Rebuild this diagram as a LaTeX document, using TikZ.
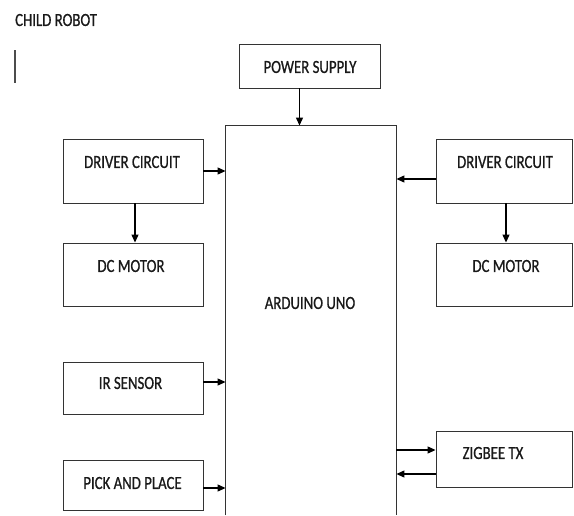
\documentclass[tikz,border=0pt]{standalone}
\usepackage{fontspec}
\newfontfamily\calfont[FakeStretch=0.8,FakeBold=0.8]{Carlito}
\usetikzlibrary{arrows.meta}

\begin{document}
\begin{tikzpicture}[x=1pt,y=-1pt,
	box/.style={draw=black!80,line width=0.9pt,minimum width=140pt,inner sep=0pt},
	lbl/.style={font=\calfont\fontsize{18.5}{20}\selectfont,text=black!90,inner sep=0pt},
	arr/.style={-{Triangle[length=8pt,width=7pt]},line width=1.2pt}]
	\useasboundingbox (0,0) rectangle (574,515);
	
	\node[lbl,anchor=west] (title) at (15,20) {CHILD ROBOT};
	\draw [black!70,line width=1.5pt] (15,50) -- (15,83);
	
	\node[box,minimum width=141pt,minimum height=44pt] (pwr) at (309.5,66) {};
	\node[box,draw=none,minimum width=170pt,minimum height=389pt] (ard) at (311,320.5) {};
	\draw [black!80,line width=0.9pt] (ard.south west) -- (ard.north west) -- (ard.north east) -- (ard.south east);
	
	\node[box,minimum height=64pt] (drvL) at (133,171) {};
	\node[box,minimum height=63pt] (motL) at (133,274.5) {};
	\node[box,minimum height=52pt] (irs) at (133,388) {};
	\node[box,minimum height=50pt] (pick) at (133,485) {};
	
	\node[box,minimum width=136pt,minimum height=64pt] (drvR) at (504,171) {};
	\node[box,minimum width=136pt,minimum height=63pt] (motR) at (504,274.5) {};
	\node[box,minimum width=136pt,minimum height=56pt] (zig) at (504,459) {};
	
	% texts
	\node[lbl] (pwrt) at (310,67) {POWER SUPPLY};
	\node[lbl] (ardt) at (310,303) {ARDUINO UNO};
	\node[lbl] (drvLt) at (132,162) {DRIVER CIRCUIT};
	\node[lbl] (motLt) at (131,266) {DC MOTOR};
	\node[lbl] (irst) at (130.5,383) {IR SENSOR};
	\node[lbl] (pickt) at (132.5,483) {PICK AND PLACE};
	\node[lbl] (drvRt) at (505,162) {DRIVER CIRCUIT};
	\node[lbl] (motRt) at (506,266) {DC MOTOR};
	\node[lbl] (zigt) at (493,453) {ZIGBEE TX};
	
	% arrows
	\draw[arr] ([xshift=-10pt]pwr.south) -- ([xshift=-10pt]pwr.south |- ard.north);
	\draw[arr] (drvL.east) -- (drvL.east -| ard.west);
	\draw[arr] ([xshift=2pt]drvL.south) -- ([xshift=2pt]motL.north);
	\draw[arr] ([yshift=-8pt]drvR.west) -- ([yshift=-8pt]drvR.west -| ard.east);
	\draw[arr] ([xshift=2pt]drvR.south) -- ([xshift=2pt]motR.north);
	\draw[arr] ([yshift=6pt]irs.east) -- ([yshift=6pt]irs.east -| ard.west);
	\draw[arr] ([yshift=-3pt]pick.east) -- ([yshift=-3pt]pick.east -| ard.west);
	\draw[arr] ([yshift=9pt]zig.west -| ard.east) -- ([yshift=9pt]zig.west);
	\draw[arr] ([yshift=-15pt]zig.west) -- ([yshift=-15pt]zig.west -| ard.east);
\end{tikzpicture}
\end{document}
